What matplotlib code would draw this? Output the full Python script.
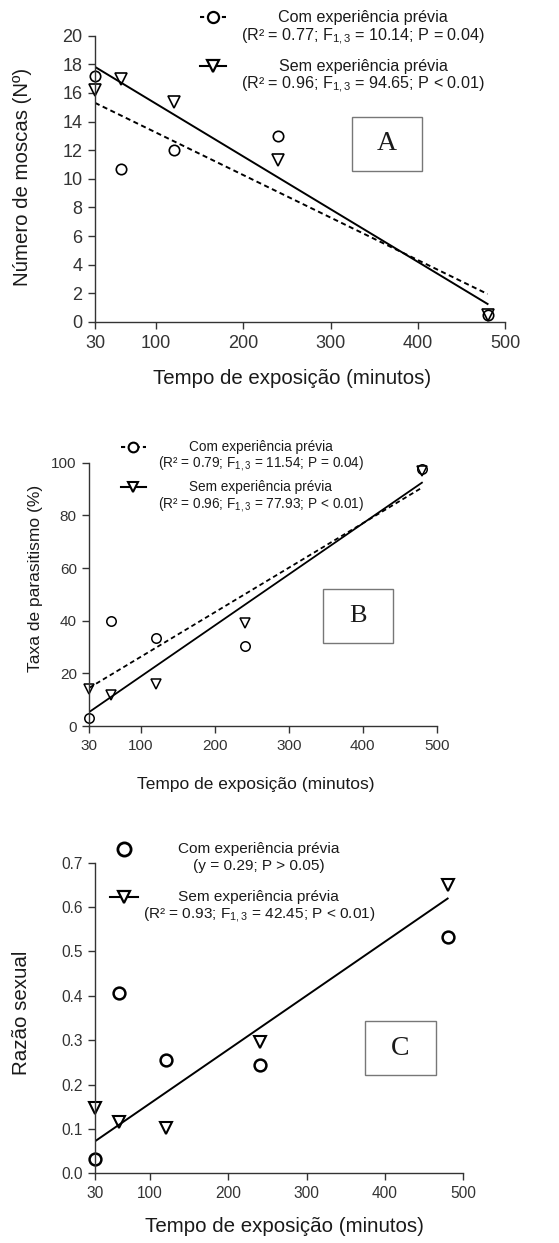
import numpy as np
import matplotlib
matplotlib.use("Agg")
import matplotlib.pyplot as plt
from matplotlib.patches import Rectangle

plt.rcParams['font.family'] = ['Liberation Sans', 'DejaVu Sans']
plt.rcParams['mathtext.fontset'] = 'custom'
plt.rcParams['mathtext.rm'] = 'Liberation Sans'
plt.rcParams['mathtext.it'] = 'Liberation Sans:italic'

# exposure time (minutes)
tempo = [30, 60, 120, 240, 480]
x_ticks = [30, 100, 200, 300, 400, 500]

# A: number of flies
moscas_com = [17.2, 10.7, 12.0, 13.0, 0.5]
moscas_sem = [16.2, 17.0, 15.4, 11.3, 0.5]

# B: parasitism rate (%)
parasit_com = [2.9, 40.0, 33.4, 30.5, 97.5]
parasit_sem = [13.9, 11.9, 15.8, 39.0, 97.0]

# C: sex ratio
razao_com = [0.032, 0.406, 0.255, 0.243, 0.532]
razao_sem = [0.147, 0.116, 0.101, 0.295, 0.650]

stats_a = ["(R² = 0.77; F$_{1,3}$ = 10.14; P = 0.04)",
           "(R² = 0.96; F$_{1,3}$ = 94.65; P < 0.01)"]
stats_b = ["(R² = 0.79; F$_{1,3}$ = 11.54; P = 0.04)",
           "(R² = 0.96; F$_{1,3}$ = 77.93; P < 0.01)"]
stats_c = ["(y = 0.29; P > 0.05)",
           "(R² = 0.93; F$_{1,3}$ = 42.45; P < 0.01)"]

INK = '#1a1a1a'
W, H = 559, 1243

fig = plt.figure(figsize=(W / 100, H / 100), dpi=100)


def px_axes(left, top, right, bottom):
    return fig.add_axes([left / W, 1 - bottom / H, (right - left) / W, (bottom - top) / H])


def fit_line(ax, x, y, **kw):
    slope, icpt = np.polyfit(x, y, 1)
    xs = np.array([min(x), max(x)])
    ax.plot(xs, icpt + slope * xs, color='black', **kw)


def style_axes(ax, ylim, yticks, tick_fs, yfmt=None):
    ax.set_xlim(30, 500)
    ax.set_ylim(*ylim)
    ax.set_xticks(x_ticks)
    ax.set_yticks(yticks)
    if yfmt:
        ax.set_yticklabels([yfmt.format(v) for v in yticks])
    for s in ('top', 'right'):
        ax.spines[s].set_visible(False)
    for s in ('left', 'bottom'):
        ax.spines[s].set_color('#333333')
        ax.spines[s].set_linewidth(1.0)
    ax.tick_params(direction='out', length=5, width=1.0, color='#333333',
                   labelsize=tick_fs, labelcolor='#333333', pad=4)


def key(ax, x, y, text, stats, fs, marker, ms, mew, ls, stat_dy, line_len=0.08):
    # legend key: short line segment with the marker in the middle
    if ls is not None:
        ax.plot([x - line_len / 2, x + line_len / 2], [y, y], transform=ax.transAxes,
                color='black', lw=1.5, ls=ls, clip_on=False)
    ax.plot([x], [y], transform=ax.transAxes, marker=marker, ms=ms, mew=mew,
            mfc='white', mec='black', ls='none', clip_on=False)
    return None


def labels(ax, entries, tx, fs):
    for y, line in entries:
        ax.text(tx, y, line, transform=ax.transAxes, ha='center', va='center',
                fontsize=fs, color=INK)


def panel_box(ax, x0, y0, x1, y1, letter, fs):
    ax.add_patch(Rectangle((x0, y0), x1 - x0, y1 - y0, transform=ax.transAxes,
                           fill=False, ec='#777777', lw=1.0))
    ax.text((x0 + x1) / 2, (y0 + y1) / 2, letter, transform=ax.transAxes,
            ha='center', va='center', fontsize=fs, family='Liberation Serif', color=INK)


# ---- Panel A ----
axA = px_axes(95, 35.7, 505, 322)
style_axes(axA, (0, 20), range(0, 21, 2), 13)
fit_line(axA, tempo, moscas_sem, lw=1.4)
fit_line(axA, tempo, moscas_com, lw=1.4, ls=(0, (2.6, 1.8)))
axA.plot(tempo, moscas_com, 'o', ms=7.5, mfc='none', mec='black', mew=1.2, clip_on=False)
axA.plot(tempo, moscas_sem, 'v', ms=8, mfc='none', mec='black', mew=1.2, clip_on=False)
key(axA, 0.288, 1.065, None, None, 0, 'o', 8, 1.6, (0, (2, 1.5)), 0, line_len=0.065)
key(axA, 0.288, 0.894, None, None, 0, 'v', 8.5, 1.6, '-', 0, line_len=0.065)
labels(axA, [(1.065, 'Com experiência prévia'), (0.995, stats_a[0]),
             (0.894, 'Sem experiência prévia'), (0.828, stats_a[1])], 0.654, 11.6)
panel_box(axA, 0.626, 0.528, 0.797, 0.717, 'A', 20)
axA.set_xlabel('Tempo de exposição (minutos)', fontsize=14.7, color=INK)
axA.set_ylabel('Número de moscas (Nº)', fontsize=14.7, color=INK)
axA.xaxis.label.set_va('center')
axA.yaxis.label.set_va('center')
axA.xaxis.set_label_coords(0.48, -0.196)
axA.yaxis.set_label_coords(-0.176, 0.506)

# ---- Panel B ----
axB = px_axes(89.3, 462.7, 436.7, 726)
style_axes(axB, (0, 100), range(0, 101, 20), 11)
fit_line(axB, tempo, parasit_sem, lw=1.3)
fit_line(axB, tempo, parasit_com, lw=1.3, ls=(0, (2.6, 1.8)))
axB.plot(tempo, parasit_com, 'o', ms=6.8, mfc='none', mec='black', mew=1.1, clip_on=False)
axB.plot(tempo, parasit_sem, 'v', ms=7.5, mfc='none', mec='black', mew=1.1, clip_on=False)
key(axB, 0.127, 1.061, None, None, 0, 'o', 7, 1.5, (0, (2, 1.5)), 0, line_len=0.07)
key(axB, 0.127, 0.907, None, None, 0, 'v', 7.5, 1.5, '-', 0, line_len=0.07)
labels(axB, [(1.061, 'Com experiência prévia'), (0.998, stats_b[0]),
             (0.907, 'Sem experiência prévia'), (0.843, stats_b[1])], 0.494, 9.8)
panel_box(axB, 0.674, 0.316, 0.875, 0.520, 'B', 19)
axB.set_xlabel('Tempo de exposição (minutos)', fontsize=12.5, color=INK)
axB.set_ylabel('Taxa de parasitismo (%)', fontsize=12.5, color=INK)
axB.xaxis.label.set_va('center')
axB.yaxis.label.set_va('center')
axB.xaxis.set_label_coords(0.479, -0.224)
axB.yaxis.set_label_coords(-0.156, 0.562)

# ---- Panel C ----
axC = px_axes(95, 862.7, 463.3, 1173.3)
style_axes(axC, (0, 0.7), np.arange(0, 0.71, 0.1), 11.2, yfmt='{:.1f}')
fit_line(axC, tempo, razao_sem, lw=1.4)
axC.plot(tempo, razao_com, 'o', ms=8.5, mfc='none', mec='black', mew=1.8, clip_on=False)
axC.plot(tempo, razao_sem, 'v', ms=8.5, mfc='none', mec='black', mew=1.5, clip_on=False)
key(axC, 0.079, 1.044, None, None, 0, 'o', 9.5, 2.0, None, 0)
key(axC, 0.079, 0.891, None, None, 0, 'v', 8.5, 1.6, '-', 0, line_len=0.075)
labels(axC, [(1.044, 'Com experiência prévia'), (0.988, stats_c[0]),
             (0.891, 'Sem experiência prévia'), (0.832, stats_c[1])], 0.445, 11.1)
panel_box(axC, 0.733, 0.316, 0.925, 0.490, 'C', 20)
axC.set_xlabel('Tempo de exposição (minutos)', fontsize=14.8, color=INK)
axC.set_ylabel('Razão sexual', fontsize=14.8, color=INK)
axC.xaxis.label.set_va('center')
axC.yaxis.label.set_va('center')
axC.xaxis.set_label_coords(0.513, -0.172)
axC.yaxis.set_label_coords(-0.199, 0.516)

fig.savefig('out.png', dpi=100)
